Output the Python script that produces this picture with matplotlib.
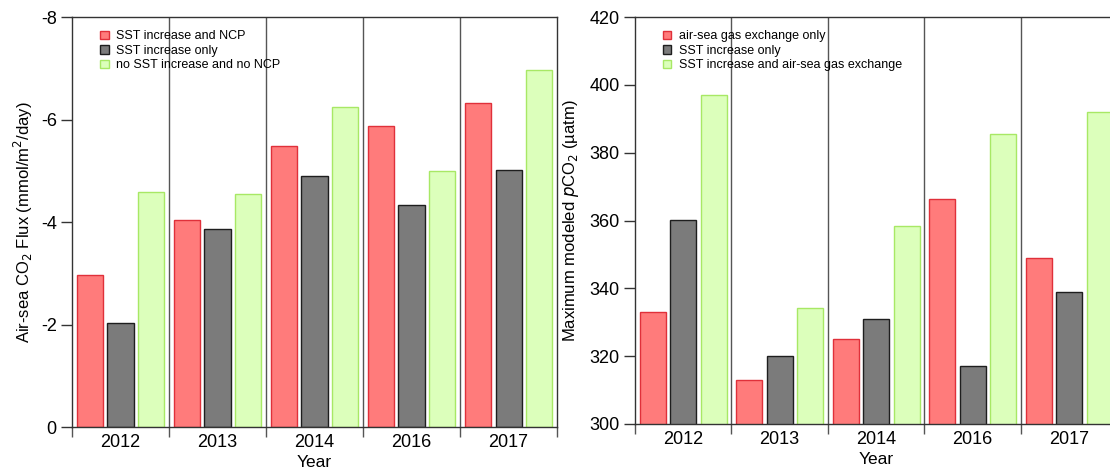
import numpy as np
import matplotlib.pyplot as plt

plt.rcParams['font.family'] = ['Liberation Sans', 'DejaVu Sans']
plt.rcParams['axes.unicode_minus'] = False

years = ["2012", "2013", "2014", "2016", "2017"]

# air-sea CO2 flux (mmol/m2/day), negative = uptake
flux_sst_ncp = [-2.97, -4.04, -5.49, -5.88, -6.32]
flux_sst_only = [-2.03, -3.86, -4.90, -4.34, -5.02]
flux_none = [-4.59, -4.54, -6.24, -4.99, -6.97]
flux_labels = ["SST increase and NCP", "SST increase only", "no SST increase and no NCP"]

# maximum modeled pCO2 (uatm)
pco2_gas_only = [333.0, 313.0, 325.0, 366.3, 349.0]
pco2_sst_only = [360.3, 320.0, 331.0, 317.0, 339.0]
pco2_sst_gas = [397.0, 334.2, 358.4, 385.6, 392.0]
pco2_labels = ["air-sea gas exchange only", "SST increase only",
               "SST increase and air-sea gas exchange"]

fills = ["#ff7b7b", "#7b7b7b", "#dcffbb"]
edges = ["#e0303a", "#1e1e1e", "#a8e865"]


def grouped(ax, series, labels, ylim, yticks):
    x = np.arange(len(years))
    offs = [-0.315, 0.0, 0.315]
    for s, lab, off, fc, ec in zip(series, labels, offs, fills, edges):
        ax.bar(x + off, s, width=0.27, color=fc, edgecolor=ec, linewidth=1.0,
               label=lab, zorder=2)
    for b in np.arange(0.5, len(years) - 1, 1.0):
        ax.axvline(b, color="#555555", lw=1.0, zorder=1)
    ax.set_xlim(-0.5, len(years) - 0.5)
    ax.set_ylim(*ylim)
    ax.set_yticks(yticks)
    ax.set_xticks(x)
    ax.set_xticklabels(years)
    ax.set_xticks(np.arange(-0.5, len(years)), minor=True)
    ax.tick_params(axis="x", which="major", length=0, labelsize=13, pad=5)
    ax.tick_params(axis="x", which="minor", length=7, width=1, color="#555555")
    ax.tick_params(axis="y", length=8, width=1, labelsize=13, pad=3, color="#333333")
    for sp in ax.spines.values():
        sp.set_color("#333333")
        sp.set_linewidth(1.0)
    ax.set_xlabel("Year", fontsize=12.5, labelpad=3)
    leg = ax.legend(loc="upper left", bbox_to_anchor=(0.034, 0.995), frameon=False,
                    fontsize=9, handlelength=0.7, handleheight=0.7,
                    handletextpad=0.6, labelspacing=0.2)
    return leg


fig = plt.figure(figsize=(11.1, 4.71), dpi=100)

ax1 = fig.add_axes([0.0649, 0.0934, 0.437, 0.8705])
grouped(ax1, [flux_sst_ncp, flux_sst_only, flux_none], flux_labels,
        (0, -8), [0, -2, -4, -6, -8])
ax1.set_ylabel("Air-sea CO$_2$ Flux (mmol/m$^2$/day)", fontsize=12, labelpad=4)

ax2 = fig.add_axes([0.572, 0.0998, 0.4347, 0.864])
grouped(ax2, [pco2_gas_only, pco2_sst_only, pco2_sst_gas], pco2_labels,
        (300, 420), np.arange(300, 421, 20))
ax2.set_ylabel("Maximum modeled $p$CO$_2$ (\u00b5atm)", fontsize=12, labelpad=6)

fig.savefig("out.png", dpi=100)
